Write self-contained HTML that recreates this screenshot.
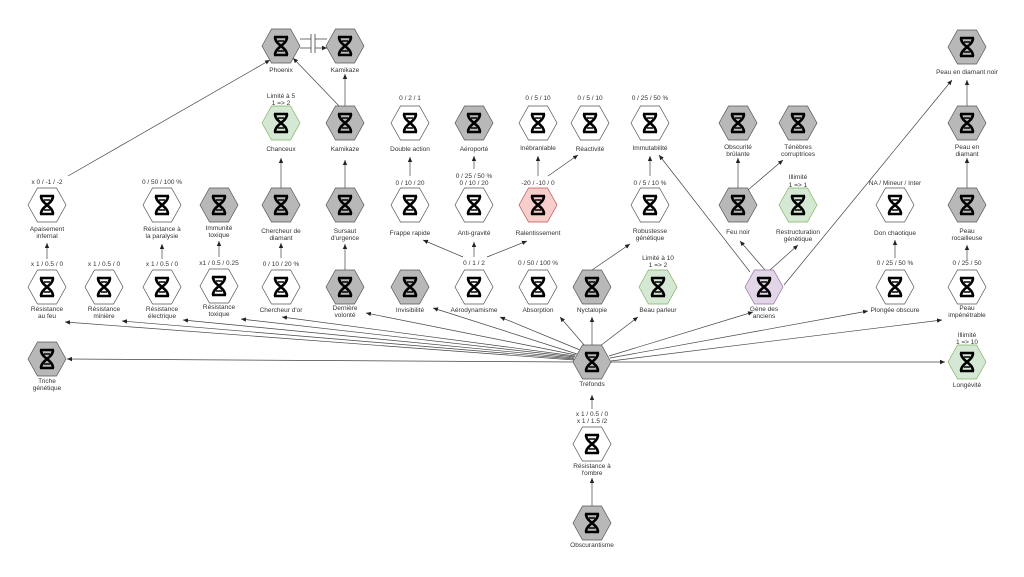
<!DOCTYPE html>
<html><head><meta charset="utf-8"><style>
body{margin:0;background:#fff}
svg{display:block}
text{font-family:"Liberation Sans",sans-serif;font-size:6.5px;fill:#333;text-anchor:middle}
.e{stroke:#444;stroke-width:0.7;fill:none;marker-end:url(#a)}
</style></head><body>
<svg width="1024" height="577" viewBox="0 0 1024 577" xmlns="http://www.w3.org/2000/svg">
<defs>
<marker id="a" markerWidth="6" markerHeight="6" refX="5" refY="3" orient="auto" markerUnits="userSpaceOnUse"><path d="M0,0.8 L5,3 L0,5.2z" fill="#222"/></marker>
<g id="d"><path d="M-7,-9 H7 M-7,9 H7 M-6,-9 C-6,-1 6,1 6,9 M6,-9 C6,-1 -6,1 -6,9" stroke="#000" stroke-width="2.6" fill="none"/><path d="M-3,-5 H3 M-3,5 H3" stroke="#000" stroke-width="1.5"/></g>
<polygon id="h" points="-19,0 -9.5,-17 9.5,-17 19,0 9.5,17 -9.5,17"/>
</defs>

<g class="e">
<path d="M300,39 H311 M315,39 H327 M300,48 H311 M315,48 H327"/>
</g>
<path d="M311,34 V53 M315,34 V53" stroke="#444" stroke-width="0.8"/>
<g class="e">
<path d="M68,176 L270,60"/>
<path d="M340,107 L293,58"/>
<path d="M345,107 L345,74"/>
<path d="M281,188 L281,158"/>
<path d="M345,188 L345,160"/>
<path d="M47,259 L47,243"/>
<path d="M162,259 L162,244"/>
<path d="M219,257 L219,241"/>
<path d="M281,258 L281,243"/>
<path d="M345,270 L345,244"/>
<path d="M410,176 L410,157"/>
<path d="M474,169 L474,156"/>
<path d="M538,176 L538,156"/>
<path d="M548,176 L578,155"/>
<path d="M650,176 L650,156"/>
<path d="M463,257 L423,240"/>
<path d="M474,257 L474,242"/>
<path d="M487,257 L527,241"/>
<path d="M592,270 L630,244"/>
<path d="M750,272 L659,155"/>
<path d="M765,270 L740,241"/>
<path d="M770,270 L798,245"/>
<path d="M784,285 L952,80"/>
<path d="M738,188 L738,158"/>
<path d="M748,190 L783,160"/>
<path d="M895,258 L895,240"/>
<path d="M967,260 L967,245"/>
<path d="M967,188 L967,158"/>
<path d="M967,108 L967,80"/>
<path d="M592,409 L592,395"/>
<path d="M592,506 L592,478"/>
<path d="M574,362 L67,359"/>
<path d="M574,360 L65,322"/>
<path d="M574,359 L122,321"/>
<path d="M574,358 L183,320"/>
<path d="M575,357 L241,319"/>
<path d="M575,356 L282,317"/>
<path d="M576,355 L366,313"/>
<path d="M577,354 L433,308"/>
<path d="M580,350 L500,317"/>
<path d="M585,346 L560,317"/>
<path d="M592,345 L592,317"/>
<path d="M600,346 L638,317"/>
<path d="M609,356 L753,312"/>
<path d="M610,358 L868,311"/>
<path d="M611,361 L942,320"/>
<path d="M611,362 L945,362"/>
</g>

<g stroke="#555" stroke-width="0.7">
<g fill="#b8b8b8">
<use href="#h" x="281" y="46"/><use href="#h" x="345" y="46"/>
<use href="#h" x="345" y="123"/><use href="#h" x="474" y="123"/>
<use href="#h" x="738" y="123"/><use href="#h" x="798" y="123"/>
<use href="#h" x="967" y="47"/><use href="#h" x="967" y="123"/>
<use href="#h" x="219" y="205"/><use href="#h" x="281" y="205"/><use href="#h" x="345" y="205"/>
<use href="#h" x="738" y="205"/><use href="#h" x="967" y="205"/>
<use href="#h" x="345" y="287"/><use href="#h" x="410" y="287"/><use href="#h" x="592" y="287"/>
<use href="#h" x="47" y="359"/><use href="#h" x="592" y="362"/><use href="#h" x="592" y="523"/>
</g>
<g fill="#fff">
<use href="#h" x="410" y="123"/><use href="#h" x="538" y="123"/><use href="#h" x="590" y="123"/><use href="#h" x="650" y="123"/>
<use href="#h" x="47" y="205"/><use href="#h" x="162" y="205"/><use href="#h" x="410" y="205"/><use href="#h" x="474" y="205"/>
<use href="#h" x="650" y="205"/><use href="#h" x="895" y="205"/>
<use href="#h" x="47" y="287"/><use href="#h" x="104" y="287"/><use href="#h" x="162" y="287"/><use href="#h" x="219" y="286"/>
<use href="#h" x="281" y="287"/><use href="#h" x="474" y="287"/><use href="#h" x="538" y="287"/>
<use href="#h" x="895" y="287"/><use href="#h" x="967" y="287"/><use href="#h" x="592" y="444"/>
</g>
<use href="#h" x="281" y="123" fill="#d5e8d4" stroke="#82b366"/>
<use href="#h" x="798" y="205" fill="#d5e8d4" stroke="#82b366"/>
<use href="#h" x="658" y="287" fill="#d5e8d4" stroke="#82b366"/>
<use href="#h" x="967" y="362" fill="#d5e8d4" stroke="#82b366"/>
<use href="#h" x="538" y="205" fill="#f8cecc" stroke="#b85450"/>
<use href="#h" x="764" y="287" fill="#e1d5e7" stroke="#9673a6"/>
</g>
<g>
<use href="#d" x="281" y="46"/><use href="#d" x="345" y="46"/>
<use href="#d" x="281" y="123"/><use href="#d" x="345" y="123"/><use href="#d" x="410" y="123"/><use href="#d" x="474" y="123"/>
<use href="#d" x="538" y="123"/><use href="#d" x="590" y="123"/><use href="#d" x="650" y="123"/><use href="#d" x="738" y="123"/><use href="#d" x="798" y="123"/>
<use href="#d" x="967" y="47"/><use href="#d" x="967" y="123"/>
<use href="#d" x="47" y="205"/><use href="#d" x="162" y="205"/><use href="#d" x="219" y="205"/><use href="#d" x="281" y="205"/><use href="#d" x="345" y="205"/>
<use href="#d" x="410" y="205"/><use href="#d" x="474" y="205"/><use href="#d" x="538" y="205"/><use href="#d" x="650" y="205"/>
<use href="#d" x="738" y="205"/><use href="#d" x="798" y="205"/><use href="#d" x="895" y="205"/><use href="#d" x="967" y="205"/>
<use href="#d" x="47" y="287"/><use href="#d" x="104" y="287"/><use href="#d" x="162" y="287"/><use href="#d" x="219" y="286"/>
<use href="#d" x="281" y="287"/><use href="#d" x="345" y="287"/><use href="#d" x="410" y="287"/><use href="#d" x="474" y="287"/>
<use href="#d" x="538" y="287"/><use href="#d" x="592" y="287"/><use href="#d" x="658" y="287"/><use href="#d" x="764" y="287"/>
<use href="#d" x="895" y="287"/><use href="#d" x="967" y="287"/>
<use href="#d" x="47" y="359"/><use href="#d" x="592" y="362"/><use href="#d" x="967" y="362"/>
<use href="#d" x="592" y="444"/><use href="#d" x="592" y="523"/>
</g>

<text x="281" y="72">Phoenix</text><text x="345" y="72">Kamikaze</text>
<text x="967" y="74">Peau en diamant noir</text>
<text x="281" y="98">Limité à 5</text><text x="281" y="105">1 =&gt; 2</text>
<text x="281" y="151">Chanceux</text><text x="345" y="151">Kamikaze</text>
<text x="410" y="100">0 / 2 / 1</text><text x="410" y="151">Double action</text>
<text x="474" y="151">Aéroporté</text>
<text x="538" y="100">0 / 5 / 10</text><text x="538" y="150">Inébranlable</text>
<text x="590" y="100">0 / 5 / 10</text><text x="590" y="151">Réactivité</text>
<text x="650" y="100">0 / 25 / 50 %</text><text x="650" y="150">Immutabilité</text>
<text x="738" y="149">Obscurité</text><text x="738" y="156">brûlante</text>
<text x="798" y="149">Ténèbres</text><text x="798" y="156">corruptrices</text>
<text x="967" y="149">Peau en</text><text x="967" y="156">diamant</text>

<text x="47" y="184">x 0 / -1 / -2</text>
<text x="47" y="231">Apaisement</text><text x="47" y="238">infernal</text>
<text x="162" y="184">0 / 50 / 100 %</text>
<text x="162" y="231">Résistance à</text><text x="162" y="238">la paralysie</text>
<text x="219" y="230">Immunité</text><text x="219" y="237">toxique</text>
<text x="281" y="233">Chercheur de</text><text x="281" y="240">diamant</text>
<text x="345" y="233">Sursaut</text><text x="345" y="240">d'urgence</text>
<text x="410" y="185">0 / 10 / 20</text><text x="410" y="235">Frappe rapide</text>
<text x="474" y="178">0 / 25 / 50 %</text><text x="474" y="185">0 / 10 / 20</text><text x="474" y="235">Anti-gravité</text>
<text x="538" y="185">-20 / -10 / 0</text><text x="538" y="235">Ralentissement</text>
<text x="650" y="185">0 / 5 / 10 %</text>
<text x="650" y="233">Robustesse</text><text x="650" y="240">génétique</text>
<text x="738" y="234">Feu noir</text>
<text x="798" y="179">Illimité</text><text x="798" y="187">1 =&gt; 1</text>
<text x="798" y="234">Restructuration</text><text x="798" y="241">génétique</text>
<text x="895" y="185">NA / Mineur / Inter</text><text x="895" y="235">Don chaotique</text>
<text x="967" y="233">Peau</text><text x="967" y="240">rocailleuse</text>

<text x="47" y="266">x 1 / 0.5 / 0</text><text x="104" y="266">x 1 / 0.5 / 0</text>
<text x="162" y="266">x 1 / 0.5 / 0</text><text x="219" y="265">x1 / 0.5 / 0.25</text>
<text x="281" y="266">0 / 10 / 20 %</text>
<text x="474" y="265">0 / 1 / 2</text><text x="538" y="265">0 / 50 / 100 %</text>
<text x="658" y="260">Limité à 10</text><text x="658" y="267">1 =&gt; 2</text>
<text x="895" y="265">0 / 25 / 50 %</text><text x="967" y="265">0 / 25 / 50</text>
<text x="47" y="311">Résistance</text><text x="47" y="318">au feu</text>
<text x="104" y="311">Résistance</text><text x="104" y="318">minière</text>
<text x="162" y="311">Résistance</text><text x="162" y="318">électrique</text>
<text x="219" y="309">Résistance</text><text x="219" y="316">toxique</text>
<text x="281" y="312">Chercheur d'or</text>
<text x="345" y="310">Dernière</text><text x="345" y="317">volonté</text>
<text x="410" y="312">Invisibilité</text><text x="474" y="312">Aérodynamisme</text>
<text x="538" y="312">Absorption</text><text x="592" y="312">Nyctalopie</text><text x="658" y="312">Beau parleur</text>
<text x="764" y="311">Gène des</text><text x="764" y="318">anciens</text>
<text x="895" y="312">Plongée obscure</text>
<text x="967" y="310">Peau</text><text x="967" y="317">impénétrable</text>
<text x="47" y="383">Triche</text><text x="47" y="390">génétique</text>
<text x="592" y="386">Tréfonds</text>
<text x="967" y="337">Illimité</text><text x="967" y="344">1 =&gt; 10</text>
<text x="967" y="387">Longévité</text>
<text x="592" y="416">x 1 / 0.5 / 0</text><text x="592" y="423">x 1 / 1.5 /2</text>
<text x="592" y="468">Résistance à</text><text x="592" y="475">l'ombre</text>
<text x="592" y="547">Obscurantisme</text>
</svg>
</body></html>
